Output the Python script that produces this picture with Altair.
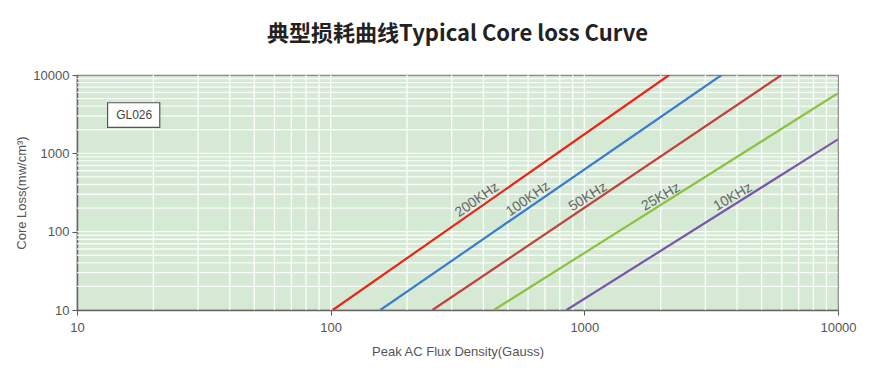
import altair as alt
import pandas as pd

# ---- data ----
series = ["200KHz", "100KHz", "50KHz", "25KHz", "10KHz"]
colors = ["#ee2215", "#3a7dcc", "#c4403a", "#8dc23f", "#7a56a8"]
# two end points per curve (straight lines on log-log axes)
x_start = [102, 157, 252, 440, 851]
y_start = [10, 10, 10, 10, 10]
x_end = [2160, 3475, 5990, 10000, 10000]
y_end = [10000, 10000, 10000, 5840, 1510]

# label anchor positions (data coords)
label_x = [378, 600, 1033, 2004, 3855]
label_y = [254, 261, 277, 277, 277]
label_angle = [325, 325, 328, 330, 330]

x_ticks = [10, 100, 1000, 10000]
y_ticks = [10, 100, 1000, 10000]
minor = [2, 3, 4, 5, 6, 7, 8, 9]
x_grid = [d * m for d in [10, 100, 1000] for m in minor] + [100, 1000]
y_grid = [d * m for d in [10, 100, 1000] for m in minor] + [100, 1000]

box_x = [13.2, 21.2]
box_y = [2148, 4425]
box_text = "GL026"
box_text_xy = [16.8, 3083]

title = "典型损耗曲线Typical Core loss Curve"
x_title = "Peak AC Flux Density(Gauss)"
y_title = "Core Loss(mw/cm³)"

# ---- tables ----
rows = []
for s, xs, ys, xe, ye in zip(series, x_start, y_start, x_end, y_end):
    rows.append({"series": s, "x": xs, "y": ys, "o": 0})
    rows.append({"series": s, "x": xe, "y": ye, "o": 1})
lines_df = pd.DataFrame(rows)
labels_df = pd.DataFrame({"series": series, "x": label_x, "y": label_y, "angle": label_angle})
xg_df = pd.DataFrame({"x": x_grid})
yg_df = pd.DataFrame({"y": y_grid})
box_df = pd.DataFrame({"x": [box_x[0]], "x2": [box_x[1]], "y": [box_y[0]], "y2": [box_y[1]]})
boxt_df = pd.DataFrame({"x": [box_text_xy[0]], "y": [box_text_xy[1]], "t": [box_text]})

xscale = alt.Scale(type="log", domain=[10, 10000], nice=False)
yscale = alt.Scale(type="log", domain=[10, 10000], nice=False)

xaxis = alt.Axis(values=x_ticks, format="d", grid=False, title=x_title,
                 labelFont="Liberation Sans", labelFontSize=13, labelColor="#555",
                 titleFont="Liberation Sans", titleFontSize=13, titleColor="#555",
                 titleFontWeight="normal", titlePadding=11, labelPadding=6,
                 tickColor="#555", domainColor="#666", tickSize=5, domainWidth=1.5,
                 labelFlush=False)
yaxis = alt.Axis(values=y_ticks, format="d", grid=False, title=y_title,
                 labelFont="Liberation Sans", labelFontSize=13, labelColor="#555",
                 titleFont="Liberation Sans", titleFontSize=13, titleColor="#555",
                 titleFontWeight="normal", titlePadding=4, labelPadding=3,
                 tickColor="#555", domainColor="#666", tickSize=5, domainWidth=1.5,
                 labelFlush=False)

xgrid = alt.Chart(xg_df).mark_rule(color="white", strokeWidth=1.4, opacity=0.85).encode(
    x=alt.X("x:Q", scale=xscale, axis=xaxis))
ygrid = alt.Chart(yg_df).mark_rule(color="white", strokeWidth=1.4, opacity=0.85).encode(
    y=alt.Y("y:Q", scale=yscale, axis=yaxis))

lines = alt.Chart(lines_df).mark_line(strokeWidth=2.2, clip=True).encode(
    x=alt.X("x:Q", scale=xscale),
    y=alt.Y("y:Q", scale=yscale),
    order="o:Q",
    color=alt.Color("series:N", scale=alt.Scale(domain=series, range=colors), legend=None),
)

labels = alt.Chart(labels_df).mark_text(
    font="Liberation Sans", fontSize=14, color="#666"
).encode(
    x=alt.X("x:Q", scale=xscale),
    y=alt.Y("y:Q", scale=yscale),
    text="series:N",
    angle=alt.Angle("angle:Q", scale=None),
)

box = alt.Chart(box_df).mark_rect(fill="white", stroke="#555", strokeWidth=1.2).encode(
    x=alt.X("x:Q", scale=xscale), x2="x2:Q",
    y=alt.Y("y:Q", scale=yscale), y2="y2:Q")
boxt = alt.Chart(boxt_df).mark_text(font="Liberation Sans", fontSize=12, color="#444").encode(
    x=alt.X("x:Q", scale=xscale), y=alt.Y("y:Q", scale=yscale), text="t:N")

chart = alt.layer(xgrid, ygrid, lines, labels, box, boxt).properties(
    width=761, height=235,
    background="white",
    title=alt.TitleParams(title, font="Noto Sans CJK SC", fontSize=22, fontWeight="bold",
                          color="#222", anchor="middle", offset=23),
    autosize=alt.AutoSizeParams(type="none"),
    padding={"left": 69, "top": 67, "right": 24, "bottom": 68},
).configure_view(fill="#d5e9d5", stroke="#888", strokeWidth=1.2)

chart.save("out.html", embed_options={"renderer": "svg", "actions": False})
